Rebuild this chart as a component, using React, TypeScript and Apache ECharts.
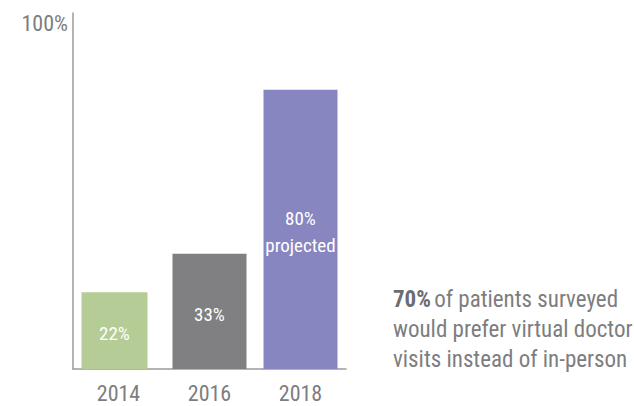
import React, { useEffect, useRef } from "react";
import * as echarts from "echarts";

const categories = ["2014", "2016", "2018"];
const values = [22, 33, 80];
const barLabels = ["22%", "33%", "80%\nprojected"];
const barColors = ["#b5cc96", "#808083", "#8886c0"];
const yTickLabel = "100%";
const noteLines = ["of patients surveyed", "would prefer virtual doctor", "visits instead of in-person"];
const noteHighlight = "70%";

const FONT = "Roboto Condensed";
const GRAY = "#7d7d80";

export default function App() {
  const ref = useRef<HTMLDivElement>(null);
  useEffect(() => {
    const chart = echarts.init(ref.current!, null, { renderer: "svg" });
    const mk = (idx: number[]) =>
      categories.map((c, i) =>
        idx.includes(i)
          ? {
              value: values[i],
              itemStyle: { color: barColors[i] },
              label: { formatter: barLabels[i] },
            }
          : "-"
      );
    const lbl = {
      show: true,
      position: "inside",
      offset: [0, 3],
      color: "#fff",
      fontSize: 19,
      lineHeight: 27,
      fontFamily: FONT,
    };
    chart.setOption({
      animation: false,
      textStyle: { fontFamily: FONT },
      grid: { left: 73, right: 288, top: 13, bottom: 37 },
      xAxis: {
        type: "category",
        data: categories,
        axisLine: { lineStyle: { color: "#9a9a9c", width: 1.5 } },
        axisTick: { show: false },
        axisLabel: { color: GRAY, fontSize: 22, margin: 13, fontFamily: FONT },
      },
      yAxis: {
        type: "value",
        min: 0,
        max: 102,
        interval: 100,
        splitLine: { show: false },
        axisTick: { show: false },
        axisLine: { show: true, lineStyle: { color: "#9a9a9c", width: 1.5 } },
        axisLabel: {
          color: GRAY,
          fontSize: 22,
          margin: 5,
          verticalAlign: "top",
          lineHeight: 8,
          fontFamily: FONT,
          showMinLabel: false,
          formatter: (v: number) => (v === 100 ? yTickLabel : ""),
        },
      },
      series: [
        { type: "bar", barWidth: 66, barGap: "-100%", data: mk([0]), label: lbl },
        { type: "bar", barWidth: 74, barGap: "-100%", data: mk([1, 2]), label: lbl },
      ],
      graphic: [
        {
          type: "text",
          left: 393,
          top: 288,
          style: {
            text: `{b|${noteHighlight}} {n|${noteLines[0]}}\n{n|${noteLines[1]}}\n{n|${noteLines[2]}}`,
            rich: {
              b: { fontSize: 23, fontWeight: "bold", fill: "#6d6d70", fontFamily: FONT, lineHeight: 30 },
              n: { fontSize: 23, fill: GRAY, fontFamily: FONT, lineHeight: 30 },
            },
          },
        },
      ],
    });
    return () => chart.dispose();
  }, []);
  return <div ref={ref} style={{ width: 634, height: 406, position: "absolute", left: 0, top: 0 }} />;
}
